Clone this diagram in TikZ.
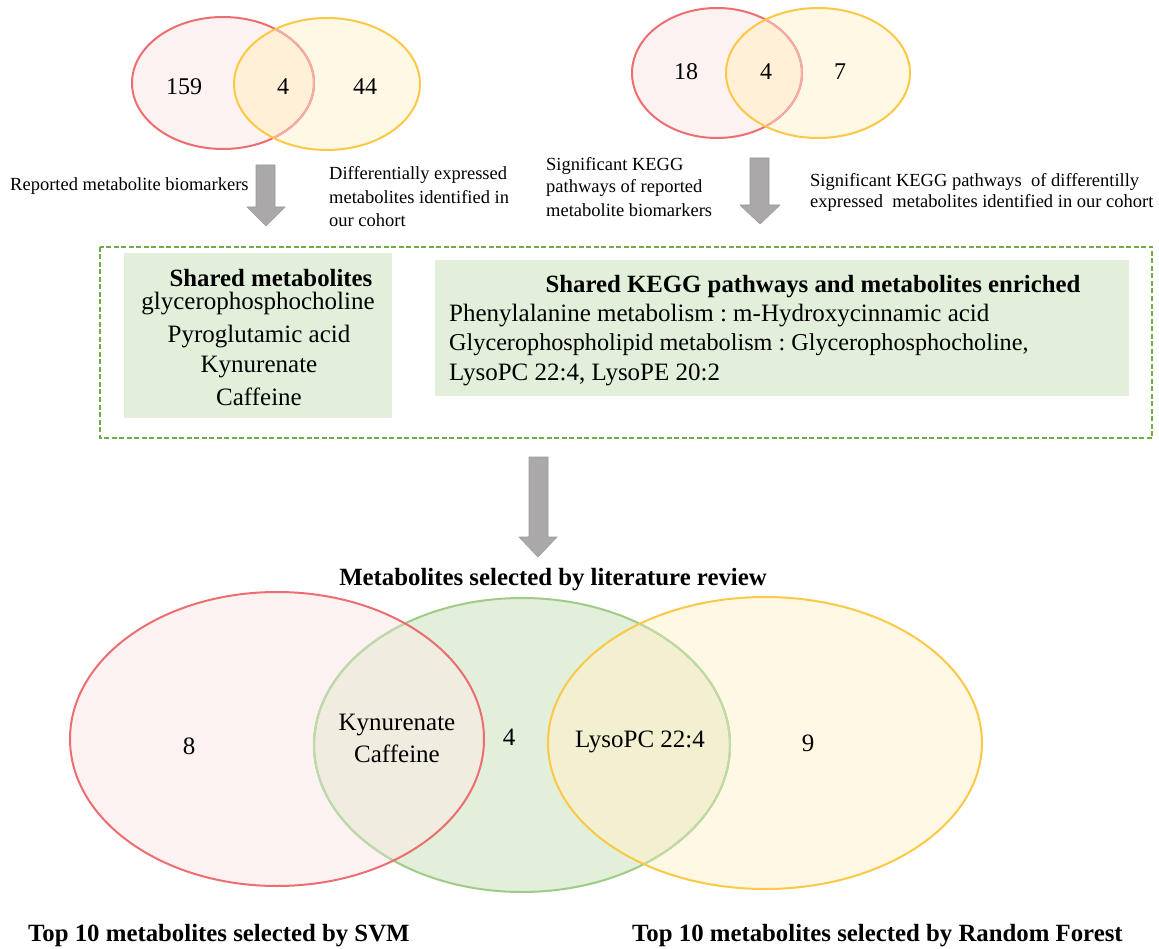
\documentclass[tikz,border=0pt]{standalone}
\usepackage{fontspec}
\setmainfont{Liberation Serif}
\definecolor{redS}{RGB}{236,110,112}
\definecolor{redF}{RGB}{253,242,242}
\definecolor{yelS}{RGB}{252,200,70}
\definecolor{yelF}{RGB}{255,248,228}
\definecolor{ryF}{RGB}{255,240,215}
\definecolor{grnS}{RGB}{160,203,135}
\definecolor{grnF}{RGB}{226,239,218}
\definecolor{rgF}{RGB}{240,236,224}
\definecolor{gyF}{RGB}{242,240,208}
\definecolor{arrG}{RGB}{170,168,168}
\definecolor{arrD}{RGB}{155,153,153}
\definecolor{dashG}{RGB}{112,173,71}
\begin{document}
\frenchspacing
\begin{tikzpicture}[x=1pt,y=-1pt,
  vline/.style={line width=2pt},
  txtS/.style={font=\fontsize{18.5}{22}\selectfont, inner sep=0pt, anchor=west},
  txtN/.style={font=\fontsize{24}{28}\selectfont, inner sep=0pt},
  txtM/.style={font=\fontsize{25}{28}\selectfont, inner sep=0pt},
  txtB/.style={font=\fontsize{24.8}{28}\selectfont\bfseries, inner sep=0pt},
  blockarrow/.style={fill=arrG, draw=arrD, line width=0.6pt}]
\useasboundingbox (0,0) rectangle (1159,949);

% ---------- top-left Venn ----------
\coordinate (r1) at (223,83);
\coordinate (y1) at (327,84);
\fill[redF] (r1) ellipse [x radius=91, y radius=66];
\fill[yelF] (y1) ellipse [x radius=93, y radius=66];
\begin{scope}
  \clip (r1) ellipse [x radius=91, y radius=66];
  \fill[ryF] (y1) ellipse [x radius=93, y radius=66];
\end{scope}
\draw[vline, redS] (r1) ellipse [x radius=91, y radius=66];
\begin{scope}
  \clip (y1) ellipse [x radius=93, y radius=66];
  \draw[vline, redS!55!yelF] (r1) ellipse [x radius=91, y radius=66];
\end{scope}
\draw[vline, yelS] (y1) ellipse [x radius=93, y radius=66];
\node[txtN] (n159) at (184,87) {159};
\node[txtN] (n4a) at (283,87) {4};
\node[txtN] (n44) at (365,87) {44};

% ---------- top-right Venn ----------
\coordinate (r2) at (717,73);
\coordinate (y2) at (818,73);
\fill[redF] (r2) ellipse [x radius=85, y radius=65];
\fill[yelF] (y2) ellipse [x radius=92, y radius=65];
\begin{scope}
  \clip (r2) ellipse [x radius=85, y radius=65];
  \fill[ryF] (y2) ellipse [x radius=92, y radius=65];
\end{scope}
\draw[vline, redS] (r2) ellipse [x radius=85, y radius=65];
\begin{scope}
  \clip (y2) ellipse [x radius=92, y radius=65];
  \draw[vline, redS!55!yelF] (r2) ellipse [x radius=85, y radius=65];
\end{scope}
\draw[vline, yelS] (y2) ellipse [x radius=92, y radius=65];
\node[txtN] (n18) at (686,72) {18};
\node[txtN] (n4b) at (766,72) {4};
\node[txtN] (n7) at (840,72) {7};

% ---------- captions ----------
\node[txtS] (cap1) at (10,186) {Reported metabolite biomarkers};
\node[txtS] (cap2a) at (329,175) {Differentially expressed};
\node[txtS] (cap2b) at (329,197) {metabolites identified in};
\node[txtS] (cap2c) at (329,220) {our cohort};
\node[txtS] (cap3a) at (546,166) {Significant KEGG};
\node[txtS] (cap3b) at (546,188) {pathways of reported};
\node[txtS] (cap3c) at (546,210) {metabolite biomarkers};
\node[txtS] (cap4a) at (810,182) {Significant KEGG pathways\ \ of differentilly};
\node[txtS] (cap4b) at (810,203) {expressed\ \ metabolites identified in our cohort};

% ---------- arrows ----------
\draw[blockarrow] (256,165) -- (275,165) -- (275,207) -- (285,207) -- (266,226) -- (247,207) -- (256,207) -- cycle;
\draw[blockarrow] (750,158) -- (769,158) -- (769,205) -- (780,205) -- (760,224) -- (740,205) -- (750,205) -- cycle;
\draw[blockarrow] (529,457) -- (548,457) -- (548,537) -- (557,537) -- (538,557) -- (519,537) -- (529,537) -- cycle;

% ---------- dashed frame and boxes ----------
\draw[dashG, line width=2.2pt, dash pattern=on 5pt off 2.5pt] (100,247) rectangle (1152,438);
\fill[grnF] (124,253) rectangle (392,418);
\fill[grnF] (435,260) rectangle (1129,396);

\node[txtB] (shm) at (271,278) {Shared metabolites};
\node[txtM] (m1) at (258,304) {glycerophosphocholine};
\node[txtM] (m2) at (259,337) {Pyroglutamic acid};
\node[txtM] (m3) at (259,367) {Kynurenate};
\node[txtM] (m4) at (259,397) {Caffeine};

\node[txtB] (shk) at (813,287) {Shared KEGG pathways and metabolites enriched};
\node[txtM, anchor=west] (k1) at (449,316) {Phenylalanine metabolism : m-Hydroxycinnamic acid};
\node[txtM, anchor=west, font=\fontsize{24.2}{28}\selectfont] (k2) at (449,345) {Glycerophospholipid metabolism : Glycerophosphocholine,};
\node[txtM, anchor=west] (k3) at (449,375) {LysoPC 22:4, LysoPE 20:2};

% ---------- bottom Venn ----------
\coordinate (r3) at (277,739);
\coordinate (g3) at (522,745);
\coordinate (y3) at (765,743);
\fill[redF] (r3) ellipse [x radius=207, y radius=147];
\fill[grnF] (g3) ellipse [x radius=208, y radius=147];
\fill[yelF] (y3) ellipse [x radius=217, y radius=146];
\begin{scope}
  \clip (r3) ellipse [x radius=207, y radius=147];
  \fill[rgF] (g3) ellipse [x radius=208, y radius=147];
\end{scope}
\begin{scope}
  \clip (y3) ellipse [x radius=217, y radius=146];
  \fill[gyF] (g3) ellipse [x radius=208, y radius=147];
\end{scope}
\draw[vline, grnS] (g3) ellipse [x radius=208, y radius=147];
\begin{scope}
  \clip (r3) ellipse [x radius=207, y radius=147];
  \draw[vline, grnS!60!rgF] (g3) ellipse [x radius=208, y radius=147];
\end{scope}
\begin{scope}
  \clip (y3) ellipse [x radius=217, y radius=146];
  \draw[vline, grnS!60!gyF] (g3) ellipse [x radius=208, y radius=147];
\end{scope}
\draw[vline, redS] (r3) ellipse [x radius=207, y radius=147];
\draw[vline, yelS] (y3) ellipse [x radius=217, y radius=146];

\node[txtB] (lit) at (553,580) {Metabolites selected by literature review};
\node[txtM] (b8) at (189,746) {8};
\node[txtM] (bky) at (397,725) {Kynurenate};
\node[txtM] (bca) at (397,754) {Caffeine};
\node[txtM] (b4) at (509,737) {4};
\node[txtM] (bly) at (640,742) {LysoPC 22:4};
\node[txtM] (b9) at (808,743) {9};
\node[txtB, anchor=west] (svm) at (28,936) {Top 10 metabolites selected by SVM};
\node[txtB, anchor=west] (rf) at (632,936) {Top 10 metabolites selected by Random Forest};
\end{tikzpicture}
\end{document}
